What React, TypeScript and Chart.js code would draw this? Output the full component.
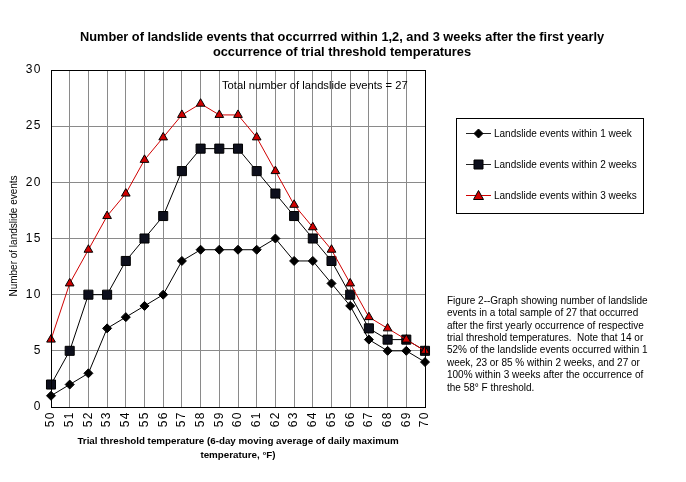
import React, { useEffect, useRef } from 'react';
import { Chart, registerables } from 'chart.js';

Chart.register(...registerables);

const FONT = '"Liberation Sans", Arial, Helvetica, sans-serif';

const categories = ['50', '51', '52', '53', '54', '55', '56', '57', '58', '59', '60', '61', '62', '63', '64', '65', '66', '67', '68', '69', '70'];
const week1 = [1, 2, 3, 7, 8, 9, 10, 13, 14, 14, 14, 14, 15, 13, 13, 11, 9, 6, 5, 5, 4];
const week2 = [2, 5, 10, 10, 13, 15, 17, 21, 23, 23, 23, 21, 19, 17, 15, 13, 10, 7, 6, 6, 5];
const week3 = [6, 11, 14, 17, 19, 22, 24, 26, 27, 26, 26, 24, 21, 18, 16, 14, 11, 8, 7, 6, 5];

const seriesNames = ['Landslide events within 1 week', 'Landslide events within 2 weeks', 'Landslide events within 3 weeks'];
const titleLines = [
  'Number of landslide events that occurrred within 1,2, and 3 weeks after the first yearly',
  'occurrence of trial threshold temperatures',
];
const xTitleLines = [
  'Trial threshold temperature (6-day moving average of daily maximum',
  'temperature, \u00B0F)',
];
const yTitle = 'Number of landslide events';
const annotation = 'Total number of landslide events = 27';
const captionLines = [
  'Figure 2--Graph showing number of landslide',
  'events in a total sample of 27 that occurred',
  'after the first yearly occurrence of respective',
  'trial threshold temperatures.  Note that 14 or',
  '52% of the landslide events occurred within 1',
  'week, 23 or 85 % within 2 weeks, and 27 or',
  '100% within 3 weeks after the occurrence of',
  'the 58\u00B0 F threshold.',
];

const RED = '#d00000';
const DARK = '#0d0f1c';

function drawMarker(ctx: CanvasRenderingContext2D, kind: number, x: number, y: number) {
  ctx.save();
  ctx.strokeStyle = '#000';
  ctx.lineWidth = 1;
  ctx.beginPath();
  if (kind === 0) {
    const r = 4.5;
    ctx.moveTo(x, y - r);
    ctx.lineTo(x + r, y);
    ctx.lineTo(x, y + r);
    ctx.lineTo(x - r, y);
    ctx.closePath();
    ctx.fillStyle = '#000';
  } else if (kind === 1) {
    ctx.rect(x - 4.5, y - 4.5, 9, 9);
    ctx.fillStyle = DARK;
  } else {
    ctx.moveTo(x, y - 5);
    ctx.lineTo(x + 5, y + 4);
    ctx.lineTo(x - 5, y + 4);
    ctx.closePath();
    ctx.fillStyle = RED;
  }
  ctx.fill();
  ctx.stroke();
  ctx.restore();
}

export default function App() {
  const ref = useRef<HTMLCanvasElement>(null);

  useEffect(() => {
    document.body.style.margin = '0';
    const overlay = {
      id: 'overlay',
      beforeDraw(chart: any) {
        (chart.ctx as any).letterSpacing = '1.5px';
      },
      beforeDatasetsDraw(chart: any) {
        (chart.ctx as any).letterSpacing = '0px';
      },
      afterDraw(chart: any) {
        const ctx: CanvasRenderingContext2D = chart.ctx;
        (ctx as any).letterSpacing = '0px';
        const { left, right, top, bottom } = chart.chartArea;
        ctx.save();
        ctx.strokeStyle = '#000';
        ctx.lineWidth = 1;
        ctx.strokeRect(Math.round(left) + 0.5, Math.round(top) + 0.5, Math.round(right - left), Math.round(bottom - top));

        ctx.fillStyle = '#000';
        ctx.textAlign = 'center';
        ctx.textBaseline = 'middle';
        ctx.font = `bold 12.8px ${FONT}`;
        ctx.fillText(titleLines[0], 342, 37);
        ctx.fillText(titleLines[1], 342, 52);

        ctx.font = `bold 9.8px ${FONT}`;
        ctx.fillText(xTitleLines[0], 238, 441);
        ctx.fillText(xTitleLines[1], 238, 455);

        ctx.save();
        ctx.translate(14, 236);
        ctx.rotate(-Math.PI / 2);
        ctx.font = `10px ${FONT}`;
        ctx.fillText(yTitle, 0, 0);
        ctx.restore();

        ctx.textAlign = 'left';
        ctx.font = `11.2px ${FONT}`;
        ctx.fillText(annotation, 222, 86);

        // legend
        ctx.fillStyle = '#fff';
        ctx.fillRect(456.5, 118.5, 187, 95);
        ctx.strokeStyle = '#000';
        ctx.strokeRect(456.5, 118.5, 187, 95);
        const ys = [133, 164, 195];
        ys.forEach((y, i) => {
          ctx.strokeStyle = i === 2 ? RED : '#222';
          ctx.lineWidth = 1;
          ctx.beginPath();
          ctx.moveTo(466, y + 0.5);
          ctx.lineTo(491, y + 0.5);
          ctx.stroke();
          drawMarker(ctx, i, 478.5, y + 0.5);
          ctx.fillStyle = '#000';
          ctx.font = `10px ${FONT}`;
          ctx.textAlign = 'left';
          ctx.textBaseline = 'middle';
          ctx.fillText(seriesNames[i], 494, y + 1);
        });

        ctx.font = `10px ${FONT}`;
        ctx.fillStyle = '#000';
        captionLines.forEach((line, i) => {
          ctx.fillText(line, 447, 301 + i * 12.4);
        });
        ctx.restore();
      },
    };

    const chart = new Chart(ref.current!, {
      type: 'line',
      data: {
        labels: categories,
        datasets: [
          {
            label: seriesNames[0],
            data: week1,
            borderColor: '#000',
            backgroundColor: '#000',
            borderWidth: 1,
            pointStyle: 'rectRot',
            pointRadius: 4.5,
            pointBorderColor: '#000',
            pointBackgroundColor: '#000',
            order: 3,
          },
          {
            label: seriesNames[1],
            data: week2,
            borderColor: '#000',
            backgroundColor: DARK,
            borderWidth: 1,
            pointStyle: 'rect',
            pointRadius: 6.4,
            pointBorderColor: '#000',
            pointBackgroundColor: DARK,
            order: 2,
          },
          {
            label: seriesNames[2],
            data: week3,
            borderColor: RED,
            backgroundColor: RED,
            borderWidth: 1,
            pointStyle: 'triangle',
            pointRadius: 5,
            pointBorderColor: '#000',
            pointBackgroundColor: RED,
            order: 1,
          },
        ],
      },
      options: {
        animation: false,
        responsive: false,
        events: [],
        layout: { padding: { left: 0, right: 261, top: 70, bottom: 0 } },
        plugins: { legend: { display: false }, title: { display: false }, tooltip: { enabled: false } },
        scales: {
          x: {
            type: 'category',
            offset: false,
            afterFit: (s: any) => { s.height = 75; },
            grid: { color: '#8a8a8a', drawTicks: false, lineWidth: 1 },
            border: { display: true, color: '#000' },
            ticks: {
              color: '#000',
              font: { family: FONT, size: 12 },
              minRotation: 90,
              maxRotation: 90,
              padding: 4,
              autoSkip: false,
            },
          },
          y: {
            min: 0,
            max: 30,
            afterFit: (s: any) => { s.width = 51; },
            grid: { color: '#8a8a8a', drawTicks: false, lineWidth: 1 },
            border: { display: true, color: '#000' },
            ticks: {
              stepSize: 5,
              color: '#000',
              font: { family: FONT, size: 12 },
              padding: 9,
            },
          },
        },
      },
      plugins: [overlay],
    });
    return () => chart.destroy();
  }, []);

  return (
    <div style={{ width: 686, height: 482, background: '#fff' }}>
      <canvas ref={ref} width={686} height={482} style={{ display: 'block', width: 686, height: 482 }} />
    </div>
  );
}
